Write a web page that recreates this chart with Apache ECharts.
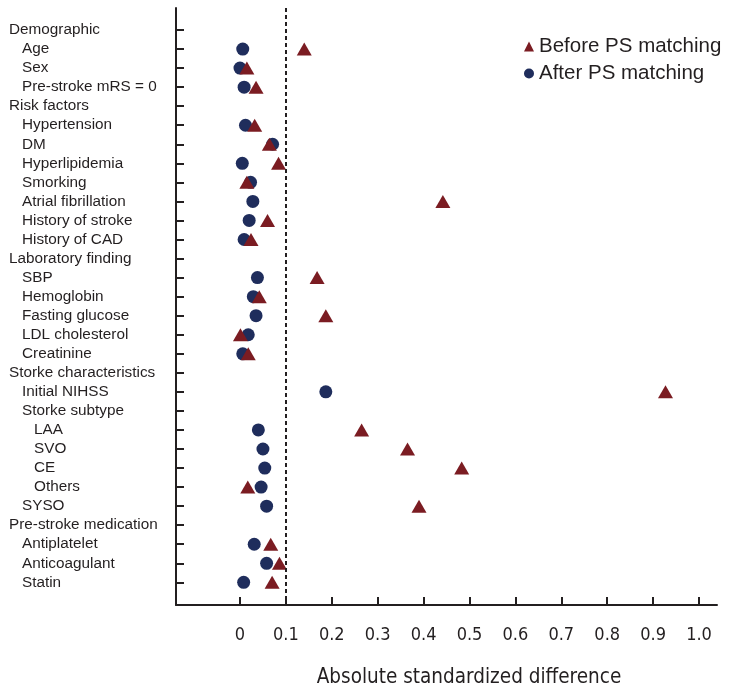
<!DOCTYPE html>
<html><head><meta charset="utf-8">
<script src="https://cdn.jsdelivr.net/npm/echarts@6/dist/echarts.min.js"></script>
<style>html,body{margin:0;padding:0;background:#fff}#c{width:729px;height:692px}</style>
</head><body><div id="c"></div>
<script>
const categories = ['Demographic','Age','Sex','Pre-stroke mRS = 0','Risk factors','Hypertension','DM','Hyperlipidemia','Smorking','Atrial fibrillation','History of stroke','History of CAD','Laboratory finding','SBP','Hemoglobin','Fasting glucose','LDL cholesterol','Creatinine','Storke characteristics','Initial NIHSS','Storke subtype','LAA','SVO','CE','Others','SYSO','Pre-stroke medication','Antiplatelet','Anticoagulant','Statin'];
const indentLevels = [0,1,1,1,0,1,1,1,1,1,1,1,0,1,1,1,1,1,0,1,1,2,2,2,2,1,0,1,1,1];
const beforeValues = [null,0.140,0.015,0.035,null,0.032,0.064,0.084,0.015,0.442,0.060,0.024,null,0.168,0.042,0.187,0.001,0.018,null,0.927,null,0.265,0.365,0.483,0.017,0.390,null,0.067,0.086,0.070];
const afterValues = [null,0.006,0.000,0.009,null,0.012,0.071,0.005,0.023,0.028,0.020,0.009,null,0.038,0.029,0.035,0.018,0.006,null,0.187,null,0.040,0.050,0.054,0.046,0.058,null,0.031,0.058,0.008];
const xTickValues = [0,0.1,0.2,0.3,0.4,0.5,0.6,0.7,0.8,0.9,1.0];
const xTickLabels = ['0','0.1','0.2','0.3','0.4','0.5','0.6','0.7','0.8','0.9','1.0'];
const thresholdValue = 0.1;
const seriesNames = ['Before PS matching','After PS matching'];

const ink = '#231f20';
const redColor = '#7b1c22';
const blueColor = '#1f2d5c';
const condensed = "'DejaVu Sans Condensed', 'Liberation Sans', sans-serif";
const sans = "'Liberation Sans', Arial, sans-serif";
const toPoints = arr => arr.map((v,i)=> v===null ? null : [v,i]).filter(p=>p!==null);
const catIdx = categories.map((c,i)=>i);

const chart = echarts.init(document.getElementById('c'), null, {renderer:'canvas'});
chart.setOption({
  animation:false,
  backgroundColor:'#fff',
  grid:{left:176, right:12, top:8, bottom:87, containLabel:false},
  title:{text:'Absolute standardized difference', left:464, top:673, textAlign:'center', textVerticalAlign:'middle',
    textStyle:{fontSize:20.5, fontWeight:'normal', fontFamily:condensed, color:ink}},
  legend:{orient:'vertical', left:519, top:31, itemWidth:10, itemHeight:10, itemGap:6,
    data:[{name:seriesNames[0], icon:'triangle'},{name:seriesNames[1], icon:'circle'}],
    textStyle:{fontSize:20.5, fontFamily:sans, color:ink}},
  xAxis:{type:'value', min:-0.1394, max:1.0392,
    axisLine:{show:true, onZero:false, lineStyle:{color:ink, width:2}},
    axisTick:{show:true, inside:true, length:8, customValues:xTickValues, lineStyle:{color:ink, width:2}},
    axisLabel:{show:true, customValues:xTickValues, margin:21, fontSize:18, fontFamily:condensed, color:ink,
      formatter:v=>xTickLabels[Math.round(v*10)]},
    splitLine:{show:false}},
  yAxis:{type:'value', inverse:true, min:-1.155, max:30.19,
    axisLine:{show:true, onZero:false, lineStyle:{color:ink, width:2}},
    axisTick:{show:true, inside:true, length:8, customValues:catIdx, lineStyle:{color:ink, width:2}},
    axisLabel:{show:true, customValues:catIdx, margin:167, align:'left', fontSize:15.3, fontFamily:sans, color:ink,
      formatter:v=>{const i=Math.round(v); const k=['h','a','b'][indentLevels[i]]; return '{'+k+'|'+categories[i]+'}';},
      rich:{
        h:{fontSize:15.3, fontFamily:sans, color:ink},
        a:{fontSize:15.3, fontFamily:sans, color:ink, padding:[0,0,0,13]},
        b:{fontSize:15.3, fontFamily:sans, color:ink, padding:[0,0,0,25]}
      }},
    splitLine:{show:false}},
  series:[
    {name:seriesNames[1], type:'scatter', symbol:'circle', symbolSize:13, itemStyle:{color:blueColor, opacity:1}, z:2,
      data:toPoints(afterValues),
      markLine:{silent:true, symbol:['none','none'], label:{show:false},
        lineStyle:{type:[4,3], color:ink, width:2, opacity:1}, data:[{xAxis:thresholdValue}]}},
    {name:seriesNames[0], type:'scatter', symbol:'triangle', symbolSize:[15,13], itemStyle:{color:redColor, opacity:1}, z:3,
      data:toPoints(beforeValues)}
  ]
});
</script></body></html>
